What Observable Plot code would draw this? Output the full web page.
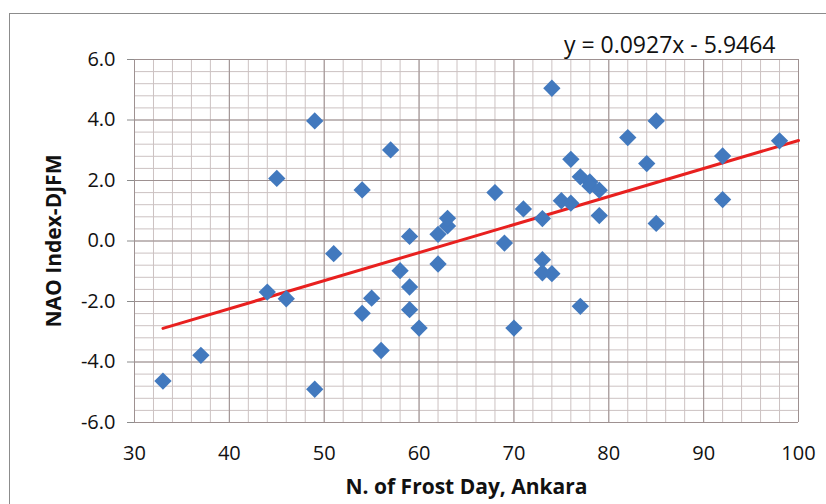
<!DOCTYPE html>
<html>
<head>
<meta charset="utf-8">
<script src="https://cdn.jsdelivr.net/npm/d3@7"></script>
<script src="https://cdn.jsdelivr.net/npm/@observablehq/plot@0.6"></script>
<style>
  body { margin: 0; background: #fff; }
  #wrap { position: relative; width: 826px; height: 504px; overflow: hidden; background: #fff; }
  #border { position: absolute; left: 9px; top: 13px; width: 900px; height: 600px; border: 1.5px solid #8c8c8c; box-sizing: border-box; pointer-events: none; }
  #wrap svg { position: absolute; left: 0; top: 0; }
</style>
</head>
<body>
<div id="wrap"><div id="border"></div></div>
<script>
// Number of frost days in Ankara (x) and NAO index DJFM (y)
const frostDays = [33, 37, 44, 45, 46, 49, 49, 51, 54, 54, 55, 56, 57, 58, 59, 59, 59, 60, 62, 62, 63, 63, 68, 69, 70, 71, 73, 73, 73, 74, 74, 75, 76, 76, 77, 77, 78, 78, 79, 79, 82, 84, 85, 85, 92, 92, 98];
const naoIndex  = [-4.63, -3.78, -1.69, 2.07, -1.91, 3.97, -4.9, -0.42, 1.69, -2.39, -1.89, -3.62, 3.01, -0.98, 0.15, -1.52, -2.27, -2.88, 0.22, -0.76, 0.5, 0.75, 1.6, -0.07, -2.88, 1.06, 0.74, -0.62, -1.05, -1.08, 5.05, 1.33, 2.7, 1.25, 2.12, -2.16, 1.95, 1.82, 1.68, 0.84, 3.42, 2.56, 3.97, 0.58, 2.81, 1.37, 3.31];

// Linear trend (from the chart's equation)
const trendSlope = 0.0927;
const trendIntercept = -5.9464;
const trendRange = [33, 100];

// Ticks and labels
const xTicks = [30, 40, 50, 60, 70, 80, 90, 100];
const yTicks = [-6, -4, -2, 0, 2, 4, 6];
const xLabel = "N. of Frost Day, Ankara";
const yLabel = "NAO Index-DJFM";
const equation = "y = 0.0927x - 5.9464";

const points = frostDays.map((x, i) => ({x, y: naoIndex[i]}));
const trend = trendRange.map(x => ({x, y: trendSlope * x + trendIntercept}));
const xMinor = d3.range(30, 100.01, 2);
const yMinor = d3.range(-6, 6.01, 0.4);

const chart = Plot.plot({
  width: 826,
  height: 504,
  marginLeft: 134,
  marginRight: 28,
  marginTop: 59,
  marginBottom: 82,
  x: {domain: [30, 100]},
  y: {domain: [-6, 6]},
  style: {fontFamily: "'Open Sans', sans-serif", background: "transparent", color: "#111"},
  marks: [
    Plot.ruleX(xMinor, {stroke: "#ccc2c2", strokeWidth: 1}),
    Plot.ruleY(yMinor, {stroke: "#ccc2c2", strokeWidth: 1}),
    Plot.ruleX(xTicks, {stroke: "#9e9191", strokeWidth: 1}),
    Plot.ruleY(yTicks, {stroke: "#9e9191", strokeWidth: 1}),
    Plot.axisX({ticks: xTicks, tickSize: 0, tickPadding: 23, fontSize: 20, tickFormat: d => String(d), label: null}),
    Plot.axisY({ticks: yTicks, tickSize: 7, tickPadding: 12, fontSize: 20, tickFormat: d => d.toFixed(1), label: null, stroke: "#8c8c8c"}),
    Plot.line(trend, {x: "x", y: "y", stroke: "#e8201f", strokeWidth: 3}),
    Plot.dot(points, {x: "x", y: "y", symbol: "diamond2", r: 7.8, fill: "#4279be", stroke: "none"}),
    Plot.text([xLabel], {text: d => d, frameAnchor: "bottom", textAnchor: "middle", lineAnchor: "middle", dy: 65, fontWeight: "bold", fontSize: 21, fill: "#111"}),
    Plot.text([yLabel], {text: d => d, frameAnchor: "left", textAnchor: "middle", lineAnchor: "middle", rotate: -90, dx: -80, fontWeight: "bold", fontSize: 21, fill: "#111"}),
    Plot.text([equation], {text: d => d, frameAnchor: "top-right", textAnchor: "end", lineAnchor: "middle", dx: -23, dy: -14, fontSize: 23, fill: "#111"})
  ]
});
document.getElementById("wrap").appendChild(chart);
</script>
</body>
</html>
